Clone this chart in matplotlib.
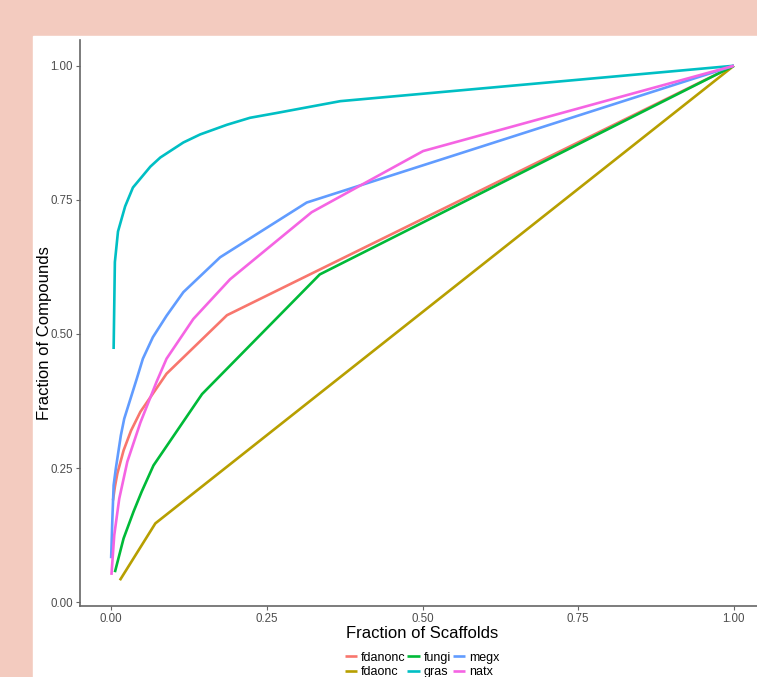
import numpy as np
import matplotlib
matplotlib.use("Agg")
from matplotlib import pyplot as plt

# fraction of scaffolds (x) / fraction of compounds (y), one pair of lists per set
fdanonc_x = [0.003, 0.006, 0.010, 0.020, 0.032, 0.047, 0.089, 0.186, 1.0]
fdanonc_y = [0.190, 0.215, 0.240, 0.283, 0.320, 0.355, 0.426, 0.535, 1.0]

fdaonc_x = [0.014, 0.071, 1.0]
fdaonc_y = [0.041, 0.147, 1.0]

fungi_x = [0.006, 0.020, 0.036, 0.049, 0.068, 0.146, 0.335, 1.0]
fungi_y = [0.056, 0.119, 0.169, 0.206, 0.255, 0.388, 0.611, 1.0]

gras_x = [0.004, 0.006, 0.011, 0.0225, 0.035, 0.063, 0.079, 0.116, 0.143,
          0.186, 0.223, 0.266, 0.303, 0.368, 1.0]
gras_y = [0.472, 0.634, 0.691, 0.738, 0.773, 0.812, 0.829, 0.857, 0.872,
          0.890, 0.903, 0.912, 0.920, 0.934, 1.0]

megx_x = [0.0, 0.002, 0.004, 0.0075, 0.0156, 0.021, 0.041, 0.051, 0.067,
          0.089, 0.116, 0.175, 0.314, 1.0]
megx_y = [0.082, 0.156, 0.218, 0.249, 0.311, 0.342, 0.416, 0.454, 0.494,
          0.534, 0.578, 0.643, 0.745, 1.0]

natx_x = [0.0005, 0.005, 0.013, 0.026, 0.047, 0.073, 0.089, 0.132, 0.191,
          0.322, 0.501, 1.0]
natx_y = [0.051, 0.125, 0.193, 0.262, 0.335, 0.411, 0.454, 0.528, 0.602,
          0.727, 0.841, 1.0]

series = [
    ("fdanonc", fdanonc_x, fdanonc_y, "#F8766D"),
    ("fdaonc", fdaonc_x, fdaonc_y, "#B79F00"),
    ("fungi", fungi_x, fungi_y, "#00BA38"),
    ("gras", gras_x, gras_y, "#00BFC4"),
    ("megx", megx_x, megx_y, "#619CFF"),
    ("natx", natx_x, natx_y, "#F564E3"),
]
ticks = [0.0, 0.25, 0.5, 0.75, 1.0]
tick_labels = ["0.00", "0.25", "0.50", "0.75", "1.00"]

plt.rcParams['font.family'] = ['Liberation Sans', 'DejaVu Sans']

fig = plt.figure(figsize=(7.57, 6.77), dpi=100)
fig.patch.set_facecolor("#F3CBBF")
# white card that holds the plot
card = plt.Rectangle((33 / 757, 0), 1, (677 - 36) / 677,
                     transform=fig.transFigure, color="white", zorder=-10)
fig.patches.append(card)

ax = fig.add_axes([80 / 757, (677 - 606) / 677, 685 / 757, 566 / 677])
ax.set_facecolor("none")

for name, xs, ys, col in series:
    ax.plot(xs, ys, color=col, lw=1.9, label=name, solid_capstyle="butt")

ax.set_xlim(-0.05, 1.05)
ax.set_ylim(-0.007, 1.048)
ax.set_xticks(ticks)
ax.set_xticklabels(tick_labels)
ax.set_yticks(ticks)
ax.set_yticklabels(tick_labels)
ax.tick_params(colors="#666666", labelcolor="#4D4D4D", labelsize=8.3,
               length=3, width=0.8, pad=2)

for s in ["top", "right"]:
    ax.spines[s].set_visible(False)
for s in ["left", "bottom"]:
    ax.spines[s].set_color("#666666")
    ax.spines[s].set_linewidth(1.2)

ax.set_xlabel("Fraction of Scaffolds", fontsize=12, labelpad=1)
ax.set_ylabel("Fraction of Compounds", fontsize=12)
ax.yaxis.set_label_coords(-0.041, 0.482)

leg = fig.legend(loc="center", bbox_to_anchor=(422 / 757, 1 - 665 / 677), ncol=3,
                 frameon=False, fontsize=9, handlelength=1.0, handletextpad=0.3,
                 columnspacing=0.15, labelspacing=0.2, borderpad=0)

fig.savefig("out.png", dpi=100, facecolor=fig.get_facecolor())
